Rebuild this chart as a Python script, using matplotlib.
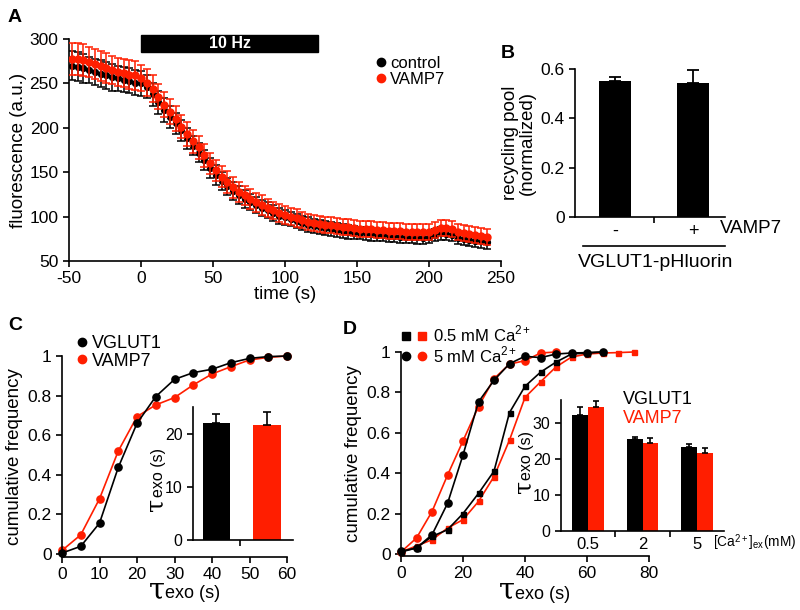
import numpy as np
import matplotlib
matplotlib.use("Agg")
import matplotlib.pyplot as plt
from matplotlib.patches import Rectangle
from matplotlib.lines import Line2D
from matplotlib.legend_handler import HandlerTuple

plt.rcParams['font.family'] = ['Liberation Sans', 'DejaVu Sans']
plt.rcParams['mathtext.fontset'] = 'stix'
plt.rcParams['axes.unicode_minus'] = False
plt.rcParams['axes.linewidth'] = 1.2
plt.rcParams['xtick.major.width'] = 1.2
plt.rcParams['ytick.major.width'] = 1.2
plt.rcParams['xtick.major.size'] = 4
plt.rcParams['ytick.major.size'] = 4

RED = '#ff1e00'

# ---------------- Panel A data ----------------
time_s = list(range(-48, 241, 4))
control_mean = [270, 269, 267, 265, 263, 261, 259, 257, 256, 254, 253, 251,
                250, 246, 238, 229, 220, 212, 205, 197, 188, 180, 172, 164, 155,
                147, 140, 134, 129, 124, 120, 116, 113, 110, 107, 104, 101, 99,
                97, 95, 93, 91, 89, 88, 87, 86, 85, 84, 83, 82, 81.5,
                81, 80, 79.5, 79, 78.5, 78, 77.5, 77, 77, 76.5, 76, 77, 79,
                81, 80.5, 79, 76, 75, 74, 73, 72, 71]
control_err = [16, 16, 16, 15, 15, 15, 15, 15, 14, 14, 14, 14,
               14, 13, 13, 13, 13, 12, 12, 12, 12, 11, 11, 11, 11,
               11, 10, 10, 10, 10, 10, 9, 9, 9, 9, 9, 9, 8,
               8, 8, 8, 8, 8, 8, 8, 8, 8, 8, 8, 7, 7,
               7, 7, 7, 7, 7, 7, 7, 7, 7, 7, 7, 7, 7,
               7, 7, 7, 7, 7, 7, 7, 7, 7]
vamp7_mean = [278, 278, 276, 274, 272, 270, 267, 265, 263, 262, 260, 259,
              256, 251, 244, 235, 226, 218, 210, 201, 193, 185, 178, 169, 160,
              152, 145, 139, 133, 128, 124, 120, 116, 113, 110, 107, 104, 102,
              100, 98, 96, 94, 93, 92, 91, 90, 89, 88.5, 88, 87, 86.5,
              86, 85.5, 85, 84.5, 84, 84, 83.5, 83, 83, 82.5, 82.5, 83, 85,
              87, 87, 86, 83, 81, 80, 79, 78, 77]
vamp7_err = [18, 18, 18, 17, 17, 17, 17, 16, 16, 16, 16, 16,
             15, 15, 15, 14, 14, 14, 14, 13, 13, 13, 13, 13, 12,
             12, 12, 12, 12, 11, 11, 11, 11, 11, 10, 10, 10, 10,
             10, 10, 9, 9, 9, 9, 9, 9, 9, 9, 9, 9, 9,
             9, 9, 9, 9, 9, 9, 9, 9, 9, 9, 9, 9, 9,
             9, 9, 9, 9, 9, 9, 9, 9, 9]
stim_start, stim_end = 0, 123

# ---------------- Panel B data ----------------
b_labels = ['-', '+']
b_values = [0.551, 0.543]
b_err = [0.017, 0.053]

# ---------------- Panel C data ----------------
c_tau = [0, 5, 10, 15, 20, 25, 30, 35, 40, 45, 50, 55, 60]
c_vglut1 = [0.005, 0.039, 0.156, 0.437, 0.66, 0.795, 0.882, 0.916, 0.933, 0.966, 0.988, 0.997, 1.0]
c_vamp7 = [0.018, 0.097, 0.279, 0.52, 0.694, 0.753, 0.79, 0.854, 0.909, 0.946, 0.98, 0.993, 1.0]
c_inset_values = [22.0, 21.6]
c_inset_err = [1.75, 2.5]

# ---------------- Panel D data ----------------
d_tau_5_vglut1 = [0, 5, 10, 15, 20, 25, 30, 35, 40, 45, 50, 55, 60, 65]
d_5_vglut1 = [0.013, 0.03, 0.095, 0.25, 0.49, 0.753, 0.86, 0.942, 0.979, 0.972, 0.99, 0.995, 0.997, 1.0]
d_tau_5_vamp7 = [0, 5, 10, 15, 20, 25, 30, 35, 40, 45, 50]
d_5_vamp7 = [0.01, 0.079, 0.21, 0.39, 0.56, 0.73, 0.868, 0.94, 0.957, 0.995, 1.0]
d_tau_05_vglut1 = [0, 5, 10, 15, 20, 25, 30, 35, 40, 45, 50, 55, 60, 65]
d_05_vglut1 = [0.01, 0.03, 0.087, 0.12, 0.2, 0.3, 0.41, 0.70, 0.83, 0.90, 0.95, 0.99, 0.995, 1.0]
d_tau_05_vamp7 = [0, 5, 10, 15, 20, 25, 30, 35, 40, 45, 50, 55, 60, 65, 70, 75]
d_05_vamp7 = [0.01, 0.04, 0.07, 0.128, 0.17, 0.26, 0.383, 0.564, 0.775, 0.852, 0.926, 0.975, 0.99, 0.995, 0.997, 1.0]
d_ca_labels = ['0.5', '2', '5']
d_inset_vglut1 = [32.2, 25.7, 23.4]
d_inset_vglut1_err = [2.3, 0.5, 0.9]
d_inset_vamp7 = [34.5, 24.5, 21.6]
d_inset_vamp7_err = [1.6, 1.3, 1.5]

W, H = 800, 610
fig = plt.figure(figsize=(W / 100, H / 100), dpi=100)


def px_axes(left, top, right, bottom):
    return fig.add_axes([left / W, 1 - bottom / H, (right - left) / W, (bottom - top) / H])


def style(ax, fs=12):
    ax.spines['top'].set_visible(False)
    ax.spines['right'].set_visible(False)
    ax.tick_params(labelsize=fs, direction='out')


def tau_label(ax, x, y, tau_size, text_size, vertical=False):
    """Big tau followed by 'exo (s)' on a common baseline at axes point (x, y)."""
    rot = 90 if vertical else 0
    ax.text(x, y, '\u03c4', transform=ax.transAxes, fontsize=tau_size,
            family=['DejaVu Serif'], ha='right', va='baseline', rotation=rot,
            rotation_mode='anchor', clip_on=False)
    ax.text(x, y, 'exo (s)', transform=ax.transAxes, fontsize=text_size,
            ha='left', va='baseline', rotation=rot, rotation_mode='anchor', clip_on=False)


TICK = 12.5
LAB = 13.5

# ================= Panel A =================
axA = px_axes(69, 39, 501, 261)
style(axA, TICK)
axA.errorbar(time_s, control_mean, yerr=control_err, fmt='o', color='black', ms=4.2,
             capsize=3.2, elinewidth=1.1, capthick=1.1, zorder=2)
axA.errorbar(time_s, vamp7_mean, yerr=vamp7_err, fmt='o', color=RED, ms=5,
             capsize=3.2, elinewidth=1.1, capthick=1.1, zorder=3)
axA.set_xlim(-50, 250)
axA.set_ylim(50, 300)
axA.set_xticks(range(-50, 251, 50))
axA.set_yticks(range(50, 301, 50))
axA.set_xlabel('time (s)', fontsize=LAB, labelpad=0)
axA.set_ylabel('fluorescence (a.u.)', fontsize=LAB, labelpad=2)
axA.add_patch(Rectangle((stim_start, 285.5), stim_end - stim_start, 19, color='black',
                        clip_on=False, zorder=5))
axA.text((stim_start + stim_end) / 2, 295, '10 Hz', color='white', fontsize=11.5,
         fontweight='bold', ha='center', va='center', zorder=6)
hA = [Line2D([], [], marker='o', ls='', color='black', ms=6),
      Line2D([], [], marker='o', ls='', color=RED, ms=6)]
axA.legend(hA, ['control', 'VAMP7'], loc='upper left', bbox_to_anchor=(0.712, 0.925),
           frameon=False, fontsize=12, handlelength=0.5, handletextpad=0.3,
           labelspacing=0.1, borderaxespad=0, borderpad=0)
fig.text(8 / W, 1 - 18 / H, 'A', fontsize=14, fontweight='bold', va='center')

# ================= Panel B =================
axB = px_axes(575, 69, 725, 217)
style(axB, TICK)
xb = np.arange(len(b_values))
axB.bar(xb, b_values, width=0.41, color='black',
        yerr=[np.zeros(len(b_err)), b_err], capsize=4,
        error_kw=dict(elinewidth=1.3, capthick=1.3, ecolor='black'))
axB.set_xlim(-0.51, 1.41)
axB.set_ylim(0, 0.6)
axB.set_yticks([0, 0.2, 0.4, 0.6], ['0', '0.2', '0.4', '0.6'])
axB.set_xticks([0.5], [''])
axB.set_xticks(xb, b_labels, minor=True)
axB.tick_params(axis='x', which='minor', length=0, labelsize=13, pad=4)
axB.set_ylabel('recycling pool\n(normalized)', fontsize=LAB, labelpad=3, linespacing=1.0)
axB.text(0.965, -0.075, 'VAMP7', transform=axB.transAxes, fontsize=13.5, va='center', ha='left')
axB.add_line(Line2D([0.053, 1.0], [-0.196, -0.196], transform=axB.transAxes,
                    color='black', lw=1.2, clip_on=False))
axB.text(0.535, -0.31, 'VGLUT1-pHluorin', transform=axB.transAxes, fontsize=14,
         va='center', ha='center')
fig.text(501 / W, 1 - 54 / H, 'B', fontsize=14, fontweight='bold', va='center')

# ================= Panel C =================
axC = px_axes(62, 356, 287, 557)
style(axC, TICK)
axC.plot(c_tau, c_vglut1, '-o', color='black', ms=5.2, lw=1.2, clip_on=False, zorder=3)
axC.plot(c_tau, c_vamp7, '-o', color=RED, ms=5.2, lw=1.2, clip_on=False, zorder=2)
axC.set_xlim(0, 60)
axC.set_ylim(-0.015, 1.0)
axC.set_xticks(range(0, 61, 10))
axC.set_yticks([0, 0.2, 0.4, 0.6, 0.8, 1.0], ['0', '0.2', '0.4', '0.6', '0.8', '1'])
axC.set_ylabel('cumulative frequency', fontsize=LAB, labelpad=3)
tau_label(axC, 0.458, -0.204, 21, 13)
hC = [Line2D([], [], marker='o', ls='', color='black', ms=6),
      Line2D([], [], marker='o', ls='', color=RED, ms=6)]
axC.legend(hC, ['VGLUT1', 'VAMP7'], loc='upper left', bbox_to_anchor=(0.07, 1.105),
           frameon=False, fontsize=13, handlelength=0.5, handletextpad=0.3,
           labelspacing=0.05, borderaxespad=0, borderpad=0)
fig.text(8 / W, 1 - 325 / H, 'C', fontsize=14, fontweight='bold', va='center')

axCi = px_axes(193, 407, 293, 540)
style(axCi, 11.5)
xc = np.arange(2)
axCi.bar(xc, c_inset_values, width=0.54, color=['black', RED],
         yerr=[np.zeros(2), c_inset_err], capsize=3,
         error_kw=dict(elinewidth=1.2, capthick=1.2, ecolor='black'))
axCi.set_xlim(-0.465, 1.515)
axCi.set_ylim(0, 25)
axCi.set_yticks([0, 10, 20])
axCi.set_xticks([0.47], [''])
tau_label(axCi, -0.30, 0.32, 17, 11.5, vertical=True)

# ================= Panel D =================
axD = px_axes(401, 352, 649, 556)
style(axD, TICK)
axD.plot(d_tau_05_vamp7, d_05_vamp7, '-s', color=RED, ms=3.6, lw=1.2, clip_on=False, zorder=2)
axD.plot(d_tau_05_vglut1, d_05_vglut1, '-s', color='black', ms=3.6, lw=1.2, clip_on=False, zorder=3)
axD.plot(d_tau_5_vamp7, d_5_vamp7, '-o', color=RED, ms=5.2, lw=1.2, clip_on=False, zorder=2)
axD.plot(d_tau_5_vglut1, d_5_vglut1, '-o', color='black', ms=5.2, lw=1.2, clip_on=False, zorder=3)
axD.set_xlim(0, 80)
axD.set_ylim(-0.01, 1.0)
axD.set_xticks(range(0, 81, 20))
axD.set_yticks([0, 0.2, 0.4, 0.6, 0.8, 1.0], ['0', '0.2', '0.4', '0.6', '0.8', '1'])
axD.set_ylabel('cumulative frequency', fontsize=LAB, labelpad=3)
tau_label(axD, 0.46, -0.21, 21, 13)
sq_k = Line2D([], [], marker='s', ls='', color='black', ms=5.5)
sq_r = Line2D([], [], marker='s', ls='', color=RED, ms=5.5)
ci_k = Line2D([], [], marker='o', ls='', color='black', ms=6)
ci_r = Line2D([], [], marker='o', ls='', color=RED, ms=6)
axD.legend([(sq_k, sq_r), (ci_k, ci_r)],
           [r'0.5 mM Ca$^{\mathregular{2+}}$', r'5 mM Ca$^{\mathregular{2+}}$'],
           handler_map={tuple: HandlerTuple(ndivide=None, pad=0.3)},
           loc='upper left', bbox_to_anchor=(0.0, 1.135), frameon=False, fontsize=12,
           handlelength=1.6, handletextpad=0.3, labelspacing=0.05, borderaxespad=0, borderpad=0)
fig.text(343 / W, 1 - 330 / H, 'D', fontsize=14, fontweight='bold', va='center')

axDi = px_axes(561, 400, 724, 531)
style(axDi, 11.5)
xd = np.arange(len(d_ca_labels))
bw = 0.29
axDi.bar(xd - bw / 2, d_inset_vglut1, width=bw, color='black',
         yerr=[np.zeros(3), d_inset_vglut1_err], capsize=2.5,
         error_kw=dict(elinewidth=1.2, capthick=1.2, ecolor='black'))
axDi.bar(xd + bw / 2, d_inset_vamp7, width=bw, color=RED,
         yerr=[np.zeros(3), d_inset_vamp7_err], capsize=2.5,
         error_kw=dict(elinewidth=1.2, capthick=1.2, ecolor='black'))
axDi.set_xlim(-0.495, 2.495)
axDi.set_ylim(0, 36.4)
axDi.set_yticks([0, 10, 20, 30])
axDi.set_xticks([0.5, 1.5], ['', ''])
axDi.set_xticks(xd, d_ca_labels, minor=True)
axDi.tick_params(axis='x', which='minor', length=0, labelsize=12, pad=4)
tau_label(axDi, -0.185, 0.39, 17, 11.5, vertical=True)
axDi.text(0.38, 1.0, 'VGLUT1', transform=axDi.transAxes, fontsize=13, color='black', va='center')
axDi.text(0.38, 0.86, 'VAMP7', transform=axDi.transAxes, fontsize=13, color=RED, va='center')
axDi.text(0.935, -0.085, r'[Ca$^{\mathregular{2+}}$]$_{\mathregular{ex}}$(mM)', transform=axDi.transAxes,
          fontsize=9.8, va='center', ha='left')

fig.savefig('out.png', dpi=100)
